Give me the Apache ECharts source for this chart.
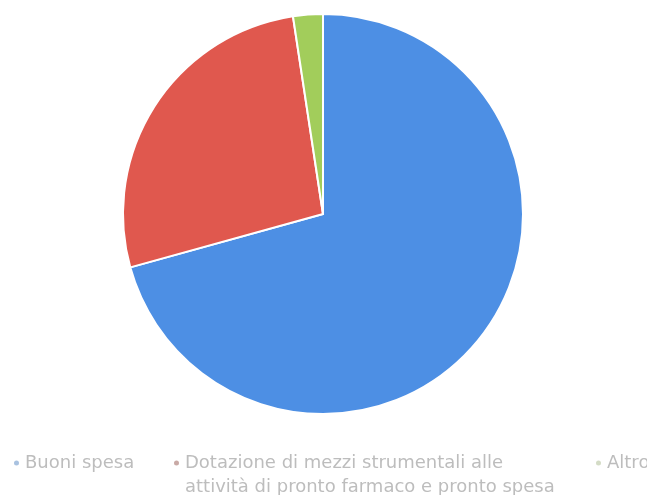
<!DOCTYPE html>
<html>
<head>
<meta charset="utf-8">
<script src="https://cdn.jsdelivr.net/npm/echarts@6/dist/echarts.min.js"></script>
<style>
  html, body { margin: 0; padding: 0; background: #ffffff; }
  #chart { width: 647px; height: 495px; }
</style>
</head>
<body>
<div id="chart"></div>
<script>
// categories and shares (percent)
const categories = [
  "Buoni spesa",
  "Dotazione di mezzi strumentali alle\nattività di pronto farmaco e pronto spesa",
  "Altro"
];
const shares = [70.7, 26.9, 2.4];
const sliceColors = ["#4d8fe4", "#e0584e", "#a2cd5b"];
const markerColors = ["#a9c2e0", "#c9aaa6", "#d4dcc6"];

let myChart = echarts.init(document.getElementById("chart"));

const legendText = {
  fontFamily: "DejaVu Sans",
  fontSize: 18,
  color: "#bdbdbd",
  lineHeight: 24
};

function makeLegend(i, left, top, extra) {
  return Object.assign({
    left: left,
    top: top,
    orient: "horizontal",
    icon: "circle",
    itemWidth: 7,
    itemHeight: 7,
    padding: 0,
    data: [{ name: categories[i], itemStyle: { color: markerColors[i] } }],
    textStyle: legendText
  }, extra || {});
}

let option = {
  animation: false,
  legend: [
    makeLegend(0, 12, 451),
    // empty first line keeps the marker level with the first text line
    makeLegend(1, 172, 427, {
      formatter: function (name) {
        return "\n" + name;
      }
    }),
    makeLegend(2, 594, 451)
  ],
  series: [
    {
      type: "pie",
      center: [323, 214],
      radius: 200,
      startAngle: 90,
      clockwise: true,
      label: { show: false },
      labelLine: { show: false },
      itemStyle: { borderColor: "#ffffff", borderWidth: 2 },
      data: categories.map((name, i) => ({
        name: name,
        value: shares[i],
        itemStyle: { color: sliceColors[i] }
      }))
    }
  ]
};

myChart.setOption(option);
</script>
</body>
</html>
